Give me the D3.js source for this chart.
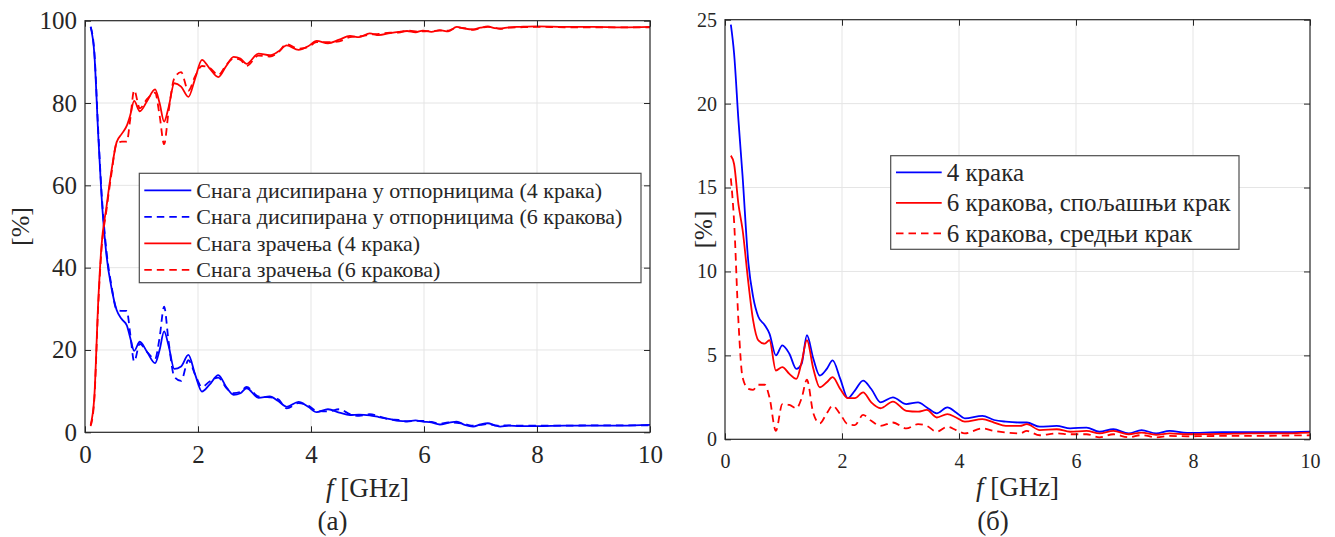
<!DOCTYPE html>
<html><head><meta charset="utf-8">
<script src="https://cdn.jsdelivr.net/npm/d3@7"></script>
<style>body{margin:0;background:#fff;}</style></head><body>
<svg id="c" width="1335" height="537"></svg>
<script>
// ---------- data ----------
const leftF = [0.1,0.165,0.235,0.29,0.38,0.47,0.56,0.65,0.74,0.8,0.87,0.97,1.1,1.24,1.32,1.4,1.48,1.58,1.7,1.83,1.95,2.07,2.2,2.36,2.5,2.63,2.75,2.86,3.07,3.27,3.42,3.57,3.78,3.95,4.1,4.3,4.5,4.69,4.85,5.04,5.2,5.4,5.55,5.7,5.85,5.98,6.13,6.28,6.43,6.58,6.72,6.87,7.0,7.13,7.25,7.35,7.5,7.7,8.0,8.5,9.0,9.5,10.0];
const dissip4 = [98.5,92,72,58,43,35,29.7,27.5,26,23,19.8,22,19.5,16.8,20,24.5,21,15.4,16,18.8,14,9.9,11.5,13.9,11,9.1,9.5,10.7,8.4,8.7,7.6,6.2,7.4,6.2,4.9,5.6,4.8,4.2,4.3,4.1,3.7,3.2,2.8,2.7,2.9,2.6,2.4,1.9,2.3,2.6,1.8,1.4,1.9,2.2,1.7,1.4,1.6,1.5,1.5,1.6,1.6,1.6,1.8];
const dissip6 = [98.5,92.5,73,59,44,35.5,29.8,29.5,29.5,24,17.2,21.5,19.5,17.8,23,30.5,22,13.5,12.5,17.5,14,11,12.3,13.3,10.8,9.5,9.8,11,8.7,8.5,8,5.8,7.1,6.5,5.2,5.1,5.6,4.4,4.0,4.4,3.9,3.1,3.0,2.6,2.8,2.8,2.5,2.1,2.4,2.3,2.0,1.6,1.8,2.0,1.7,1.6,1.7,1.6,1.6,1.6,1.7,1.7,1.7];
const rad4 = [1.8,8.6,32,45,54.8,63.7,70.5,72.5,74.5,77,80.5,78,80.5,83.3,80,75.5,79,84.8,84,81.5,86,90.5,88.5,86.3,89,91.2,90.8,89.5,92,91.6,92.5,94,92.9,93.8,95.1,94.5,95.4,96.3,96,96.9,96.5,97,97.3,97.5,97.2,97.6,97.3,97.7,97.4,98.5,98.1,97.9,98.3,98.6,98.2,98.1,98.4,98.5,98.6,98.5,98.5,98.4,98.5];
const rad6 = [1.5,8,31,44,54,63,70.2,70.6,70.6,76,83.1,78.7,81,82.5,77,70,78,86,87.5,83,86.5,89,88.6,86.8,89.3,90.8,90.5,89,91.5,91.3,92.3,94.3,93.2,93.6,94.8,94.8,95,96,96.2,96.6,96.8,97.1,97.1,97.6,97.4,97.4,97.5,97.6,97.6,98.3,98.2,97.8,98.2,98.5,98.3,98.0,98.3,98.4,98.5,98.4,98.4,98.4,98.4];

const rightF = [0.1,0.155,0.23,0.3,0.4,0.48,0.57,0.68,0.76,0.87,0.98,1.1,1.22,1.31,1.4,1.51,1.62,1.74,1.84,1.97,2.1,2.22,2.36,2.5,2.66,2.87,3.1,3.3,3.45,3.62,3.8,3.95,4.1,4.4,4.6,4.8,5.04,5.16,5.38,5.67,5.9,6.18,6.4,6.64,6.9,7.12,7.37,7.6,7.9,8.5,9.0,9.5,10.0];
const arm4 = [24.7,23,19,15.7,10.5,8.5,7.3,6.8,6.3,5.0,5.6,5.1,4.2,4.5,6.2,4.8,3.8,4.2,4.7,3.6,2.45,2.9,3.5,3.0,2.2,2.5,2.1,2.2,1.9,1.55,1.9,1.6,1.25,1.4,1.15,1.05,1.0,1.0,0.75,0.8,0.65,0.7,0.45,0.6,0.35,0.55,0.35,0.5,0.38,0.42,0.42,0.42,0.45];
const arm6outer = [16.9,16.4,14.0,12.5,9.3,7.1,5.9,5.7,5.9,4.1,4.3,3.9,3.6,4.6,5.9,4.2,3.1,3.4,3.7,3.0,2.45,2.45,2.8,2.2,1.85,2.25,1.7,1.65,1.75,1.3,1.5,1.3,1.05,1.2,1.0,0.8,0.8,0.9,0.55,0.6,0.45,0.5,0.35,0.5,0.3,0.4,0.27,0.35,0.3,0.32,0.35,0.35,0.4];
const arm6middle = [15.55,13,7,3.7,3.0,2.95,3.25,3.25,2.5,0.5,2.1,2.05,1.85,2.45,3.55,1.55,0.95,1.55,2.0,1.5,0.9,0.85,1.45,1.1,0.8,1.0,0.65,0.9,0.8,0.45,0.75,0.55,0.35,0.65,0.5,0.4,0.35,0.5,0.24,0.35,0.3,0.3,0.12,0.3,0.12,0.25,0.12,0.2,0.18,0.2,0.2,0.22,0.24];

const xTicks = [0,2,4,6,8,10];
const yTicksA = [0,20,40,60,80,100];
const yTicksB = [0,5,10,15,20,25];
const legendA = ["Снага дисипирана у отпорницима (4 крака)","Снага дисипирана у отпорницима (6 кракова)","Снага зрачења (4 крака)","Снага зрачења (6 кракова)"];
const legendB = ["4 крака","6 кракова, спољашњи крак","6 кракова, средњи крак"];
const xLabel = "[GHz]";
const panelLabels = ["(a)","(б)"];

// ---------- drawing ----------
const FONT = '"Liberation Serif"';
const cv = document.createElement("canvas").getContext("2d");
cv.font = '20px "Liberation Serif", monospace'; cv.measureText("Снага 0123456789");
cv.font = 'italic 20px "Liberation Serif", monospace'; cv.measureText("f");

const svg = d3.select("#c");
const AX = "#262626", GRID = "#e5e5e5", BLUE = "#0000ff", RED = "#ff0000";

function txt(sel){ return sel.attr("font-family",FONT).attr("fill",AX); }

function panel(o){
  const g = svg.append("g");
  const x = d3.scaleLinear().domain([0,10]).range([o.x0,o.x1]);
  const y = d3.scaleLinear().domain([0,o.ymax]).range([o.y0,o.y1]);
  g.append("g").selectAll("line").data(xTicks.slice(1,-1)).join("line")
    .attr("x1",d=>x(d)).attr("x2",d=>x(d)).attr("y1",o.y0).attr("y2",o.y1)
    .attr("stroke",GRID).attr("stroke-width",1);
  g.append("g").selectAll("line").data(o.yTicks.slice(1,-1)).join("line")
    .attr("y1",d=>y(d)).attr("y2",d=>y(d)).attr("x1",o.x0).attr("x2",o.x1)
    .attr("stroke",GRID).attr("stroke-width",1);
  const cid = "clip"+o.id;
  svg.append("clipPath").attr("id",cid).append("rect")
    .attr("x",o.x0).attr("y",o.y1).attr("width",o.x1-o.x0).attr("height",o.y0-o.y1);
  const lines = g.append("g").attr("clip-path",`url(#${cid})`);
  o.series.forEach(s=>{
    const line = d3.line().x((d,i)=>x(o.f[i])).y(d=>y(d)).curve(d3.curveMonotoneX);
    lines.append("path").attr("d",line(s.v)).attr("fill","none")
      .attr("stroke",s.c).attr("stroke-width",1.8)
      .attr("stroke-dasharray",s.dash?"7.5,5":null).attr("stroke-linejoin","round");
  });
  const tl = 6;
  const axB = g.append("g").attr("transform",`translate(0,${o.y0})`)
    .call(d3.axisBottom(x).tickValues(xTicks).tickSize(-tl).tickPadding(o.xpad).tickFormat(d3.format("d")));
  const axL = g.append("g").attr("transform",`translate(${o.x0},0)`)
    .call(d3.axisLeft(y).tickValues(o.yTicks).tickSize(-tl).tickPadding(o.ypad).tickFormat(d3.format("d")));
  const axT = g.append("g").attr("transform",`translate(0,${o.y1})`)
    .call(d3.axisTop(x).tickValues(xTicks).tickSize(-tl).tickFormat(""));
  const axR = g.append("g").attr("transform",`translate(${o.x1},0)`)
    .call(d3.axisRight(y).tickValues(o.yTicks).tickSize(-tl).tickFormat(""));
  [axB,axL,axT,axR].forEach(a=>{
    a.attr("font-family",FONT);
    a.select(".domain").remove();
    a.selectAll("line").attr("stroke",AX).attr("stroke-width",1);
  });
  axB.selectAll("text").attr("font-size",o.tickFont).call(txt);
  axL.selectAll("text").attr("font-size",o.tickFont).call(txt);
  g.append("rect").attr("x",o.x0).attr("y",o.y1).attr("width",o.x1-o.x0).attr("height",o.y0-o.y1)
    .attr("fill","none").attr("stroke",AX).attr("stroke-width",1.2);
  const xl = g.append("text").attr("x",(o.x0+o.x1)/2).attr("y",o.xlabY).attr("text-anchor","middle")
    .attr("font-size",o.labFont).call(txt);
  xl.append("tspan").attr("font-style","italic").text("f");
  xl.append("tspan").text(" "+xLabel);
  g.append("text").attr("transform",`translate(${o.ylabX},${(o.y0+o.y1)/2}) rotate(-90)`)
    .attr("text-anchor","middle").attr("font-size",o.yLabFont).text("[%]").call(txt);
  g.append("text").attr("x",o.pX).attr("y",o.pY).attr("text-anchor","middle")
    .attr("font-size",o.labFont).text(o.pLabel).call(txt);
  const L = o.legend;
  const lg = g.append("g");
  lg.append("rect").attr("x",L.x).attr("y",L.y).attr("width",L.w).attr("height",L.h)
    .attr("fill","#fff").attr("stroke","#4d4d4d").attr("stroke-width",1.2);
  L.items.forEach((t,i)=>{
    const yy = L.y + L.first + i*L.step;
    lg.append("line").attr("x1",L.x+L.l0).attr("x2",L.x+L.l1).attr("y1",yy).attr("y2",yy)
      .attr("stroke",o.series[i].c).attr("stroke-width",1.8).attr("stroke-dasharray",o.series[i].dash?"7.5,5":null);
    lg.append("text").attr("x",L.x+L.tx).attr("y",yy).attr("dy","0.33em").attr("font-size",L.font)
      .text(t).call(txt);
  });
}

panel({id:"A", x0:85, x1:650, y0:432.3, y1:20.7, ymax:100, yTicks:yTicksA, f:leftF,
  tickFont:25, labFont:27, yLabFont:26, xpad:13, ypad:8, xlabY:497, ylabX:29, pX:332.5, pY:530, pLabel:panelLabels[0],
  series:[{v:dissip4,c:BLUE},{v:dissip6,c:BLUE,dash:true},{v:rad4,c:RED},{v:rad6,c:RED,dash:true}],
  legend:{x:139.3,y:173.3,w:501.7,h:109.4,first:17,step:26.5,l0:5,l1:52,tx:57,font:22,items:legendA}});
panel({id:"B", x0:725, x1:1310, y0:439.3, y1:19.7, ymax:25, yTicks:yTicksB, f:rightF,
  tickFont:20, labFont:27, yLabFont:25, xpad:15, ypad:8, xlabY:496, ylabX:712, pX:993, pY:530, pLabel:panelLabels[1],
  series:[{v:arm4,c:BLUE},{v:arm6outer,c:RED},{v:arm6middle,c:RED,dash:true}],
  legend:{x:890.7,y:155.7,w:348.3,h:93.6,first:16.6,step:30.5,l0:5.3,l1:51,tx:56,font:25,items:legendB}});
</script>
</body></html>
